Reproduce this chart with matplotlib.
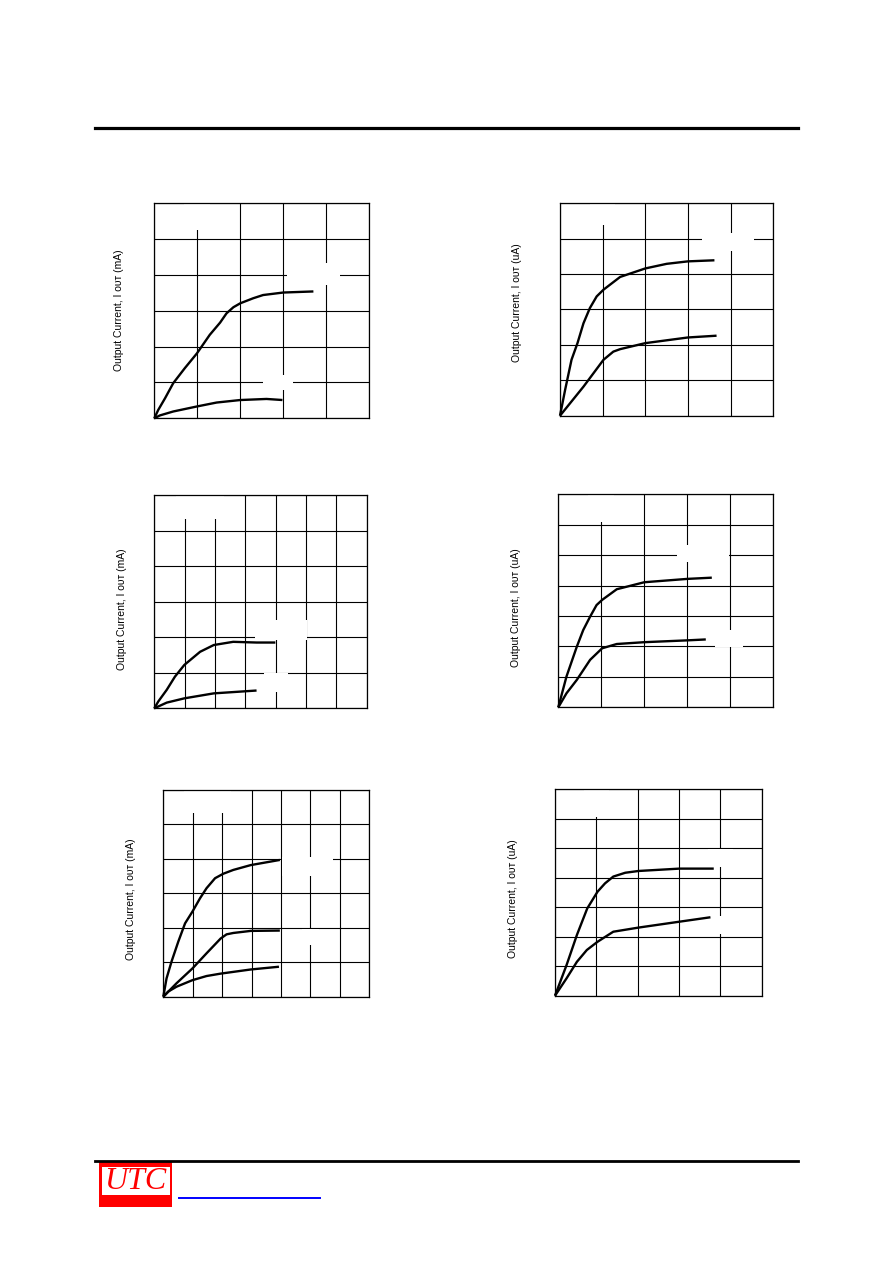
# output current curves, six small panels on one datasheet page
import matplotlib
matplotlib.use("Agg")
import matplotlib.pyplot as plt
from matplotlib.patches import Rectangle
from matplotlib.lines import Line2D

W, H = 892, 1263

# values, in grid divisions
c1_x_hi = [0, 0.09, 0.25, 0.44, 0.71, 0.99, 1.29, 1.53, 1.68, 1.84, 2.0, 2.30, 2.53, 3.0, 3.70]
c1_y_hi = [0, 0.23, 0.56, 0.98, 1.40, 1.81, 2.33, 2.67, 2.93, 3.10, 3.21, 3.35, 3.44, 3.51, 3.54]
c1_x_lo = [0, 0.13, 0.44, 0.99, 1.45, 2.0, 2.61, 2.98]
c1_y_lo = [0, 0.08, 0.19, 0.33, 0.44, 0.51, 0.54, 0.51]

c2_x_hi = [0, 0.12, 0.27, 0.41, 0.55, 0.70, 0.86, 1.02, 1.41, 2.0, 2.5, 3.0, 3.62]
c2_y_hi = [0, 0.73, 1.58, 2.05, 2.61, 3.04, 3.37, 3.56, 3.92, 4.16, 4.29, 4.36, 4.39]
c2_x_lo = [0, 0.55, 1.02, 1.25, 1.41, 2.0, 3.0, 3.67]
c2_y_lo = [0, 0.82, 1.58, 1.81, 1.88, 2.05, 2.21, 2.26]

c3_x_hi = [0, 0.13, 0.41, 0.68, 0.99, 1.51, 1.96, 2.6, 3.37, 3.99]
c3_y_hi = [0, 0.19, 0.52, 0.89, 1.22, 1.59, 1.78, 1.87, 1.85, 1.85]
c3_x_lo = [0, 0.41, 0.99, 1.96, 3.37]
c3_y_lo = [0, 0.16, 0.28, 0.42, 0.50]

c4_x_hi = [0, 0.19, 0.43, 0.58, 0.74, 0.89, 1.02, 1.36, 2.0, 3.0, 3.57]
c4_y_hi = [0, 1.01, 1.99, 2.54, 2.98, 3.36, 3.53, 3.88, 4.11, 4.22, 4.26]
c4_x_lo = [0, 0.19, 0.43, 0.74, 1.02, 1.36, 2.0, 3.0, 3.43]
c4_y_lo = [0, 0.46, 0.90, 1.56, 1.94, 2.08, 2.14, 2.20, 2.23]

c5_x_hi = [0, 0.11, 0.28, 0.51, 0.74, 0.99, 1.25, 1.47, 1.76, 2.04, 2.38, 2.97, 3.96]
c5_y_hi = [0, 0.53, 1.02, 1.60, 2.13, 2.47, 2.86, 3.15, 3.44, 3.57, 3.68, 3.82, 3.97]
c5_x_mid = [0, 0.45, 0.99, 1.47, 1.95, 2.15, 2.38, 2.97, 3.96]
c5_y_mid = [0, 0.39, 0.82, 1.26, 1.69, 1.81, 1.85, 1.91, 1.92]
c5_x_lo = [0, 0.17, 0.45, 0.99, 1.47, 1.95, 2.97, 3.93]
c5_y_lo = [0, 0.15, 0.29, 0.48, 0.60, 0.67, 0.79, 0.87]

c6_x_hi = [0, 0.28, 0.53, 0.78, 1.03, 1.21, 1.41, 1.70, 2.02, 3.01, 3.84]
c6_y_hi = [0, 1.04, 2.06, 2.96, 3.53, 3.81, 4.04, 4.17, 4.23, 4.31, 4.31]
c6_x_lo = [0, 0.28, 0.53, 0.77, 1.03, 1.41, 2.02, 3.01, 3.76]
c6_y_lo = [0, 0.59, 1.15, 1.55, 1.83, 2.17, 2.31, 2.51, 2.66]

ylabels = ["Output Current, I ᴏᴜᴛ (mA)", "Output Current, I ᴏᴜᴛ (uA)",
           "Output Current, I ᴏᴜᴛ (mA)", "Output Current, I ᴏᴜᴛ (uA)",
           "Output Current, I ᴏᴜᴛ (mA)", "Output Current, I ᴏᴜᴛ (uA)"]

# panel boxes in pixels: left, right, top, bottom, columns, rows
boxes = [(154.3, 369.3, 203.3, 418.3, 5, 6),
         (560.0, 773.3, 203.3, 415.7, 5, 6),
         (154.3, 366.7, 495.0, 708.3, 7, 6),
         (558.3, 773.3, 494.3, 707.3, 5, 7),
         (163.3, 369.3, 790.0, 996.7, 7, 6),
         (555.0, 761.7, 789.3, 995.7, 5, 7)]
label_pos = [(119, 310), (517, 303), (122, 609), (516, 608), (131, 899), (513, 899)]

# white patches where the curve labels sat (x0, x1, y0, y1 in divisions)
blanks = [[(0.7, 1.3, 5.26, 6), (3.08, 4.32, 3.72, 4.33), (2.53, 3.23, 0.79, 1.21)],
          [(0.7, 1.3, 5.4, 6), (3.33, 4.55, 4.64, 5.16)],
          [(0.7, 2.3, 5.32, 6), (3.32, 5.02, 1.92, 2.48), (3.6, 4.4, 0.46, 0.99)],
          [(0.7, 1.3, 6.1, 7), (2.75, 3.97, 4.79, 5.33), (3.64, 4.29, 1.97, 2.53)],
          [(0.7, 2.3, 5.32, 6), (4.03, 5.78, 3.49, 4.06), (4.7, 5.3, 1.5, 1.97)],
          [(0.7, 1.3, 6.07, 7), (3.7, 4.3, 4.36, 4.98), (3.7, 4.3, 2.09, 2.7)]]

curves = [[(c1_x_hi, c1_y_hi), (c1_x_lo, c1_y_lo)],
          [(c2_x_hi, c2_y_hi), (c2_x_lo, c2_y_lo)],
          [(c3_x_hi, c3_y_hi), (c3_x_lo, c3_y_lo)],
          [(c4_x_hi, c4_y_hi), (c4_x_lo, c4_y_lo)],
          [(c5_x_hi, c5_y_hi), (c5_x_mid, c5_y_mid), (c5_x_lo, c5_y_lo)],
          [(c6_x_hi, c6_y_hi), (c6_x_lo, c6_y_lo)]]

fig = plt.figure(figsize=(W / 100, H / 100), dpi=100)

for i, (l, r, t, b, nc, nr) in enumerate(boxes):
    ax = fig.add_axes([l / W, 1 - b / H, (r - l) / W, (b - t) / H])
    ax.set_xlim(0, nc)
    ax.set_ylim(0, nr)
    ax.set_xticks(range(nc + 1))
    ax.set_yticks(range(nr + 1))
    ax.tick_params(length=0, labelbottom=False, labelleft=False)
    ax.grid(True, color="black", linewidth=0.8)
    for s in ax.spines.values():
        s.set_linewidth(0.9)
    for x0, x1, y0, y1 in blanks[i]:
        ax.add_patch(Rectangle((x0, y0), x1 - x0, y1 - y0, facecolor="white",
                               edgecolor="none", zorder=2))
    for xs, ys in curves[i]:
        ax.plot(xs, ys, color="black", linewidth=1.7, zorder=3, clip_on=False,
                solid_joinstyle="round", solid_capstyle="butt")
    lx, ly = label_pos[i]
    fig.text(lx / W, 1 - ly / H, ylabels[i], rotation=90, ha="center", va="center",
             fontsize=7.5, family=["Liberation Sans", "DejaVu Sans"])

# page rules
fig.add_artist(Line2D([95 / W, 798 / W], [1 - 128.3 / H] * 2, color="black", linewidth=2.3))
fig.add_artist(Line2D([95 / W, 798 / W], [1 - 1161 / H] * 2, color="black", linewidth=2.0))

# UTC logo and link underline
fig.add_artist(Rectangle((99 / W, 1 - 1206.7 / H), 73 / W, 45 / H,
                         transform=fig.transFigure, facecolor="#ff0000", edgecolor="none"))
fig.add_artist(Rectangle((101.7 / W, 1 - 1195 / H), 68.3 / W, 28.3 / H,
                         transform=fig.transFigure, facecolor="white", edgecolor="none"))
fig.text(135.5 / W, 1 - 1181.5 / H, "UTC", color="#ff0000", fontsize=23, style="italic",
         family="Liberation Serif", ha="center", va="center")
fig.add_artist(Line2D([179.3 / W, 320 / W], [1 - 1198 / H] * 2, color="#0000ff", linewidth=1.4))

fig.savefig("out.png", dpi=100)
